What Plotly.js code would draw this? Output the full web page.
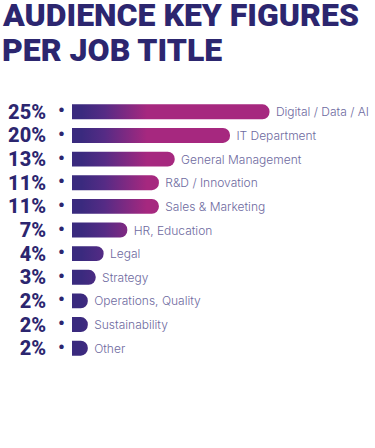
<!DOCTYPE html>
<html>
<head>
<meta charset="utf-8">
<script src="https://cdn.plot.ly/plotly-3.0.1.min.js"></script>
<style>html,body{margin:0;padding:0;background:#fff;}#chart{width:375px;height:448px;}</style>
</head>
<body>
<div id="chart"></div>
<script>
var categories = ["Digital / Data / AI", "IT Department", "General Management", "R&D / Innovation", "Sales & Marketing", "HR, Education", "Legal", "Strategy", "Operations, Quality", "Sustainability", "Other"];
var shares = [25, 20, 13, 11, 11, 7, 4, 3, 2, 2, 2];
var pctLabels = ["25%", "20%", "13%", "11%", "11%", "7%", "4%", "3%", "2%", "2%", "2%"];
var titleLines = ["AUDIENCE KEY FIGURES", "PER JOB TITLE"];

var NAVY = "#2c266f";
var idx = categories.map(function(_, i){ return i; });

var trace = {
  type: "bar",
  orientation: "h",
  x: shares,
  y: idx,
  width: 0.63,
  marker: {color: "#6a2a84", cornerradius: 7, line: {width: 0}},
  text: categories.map(function(c){ return "\u00a0" + c; }),
  textposition: "outside",
  constraintext: "none",
  cliponaxis: false,
  textfont: {family: "Inter", size: 12, weight: 300, color: "#6e6aa0"},
  hoverinfo: "skip"
};

var PLOT_W = 303, PLOT_H = 260;
var anns = idx.map(function(i){
  return {x: 0, y: i, xref: "x", yref: "y", xshift: -11, yshift: 1, text: "\u2022", showarrow: false,
          font: {family: "Roboto", size: 19, weight: 700, color: NAVY}, xanchor: "center", yanchor: "middle"};
});
titleLines.forEach(function(t, k){
  anns.push({
    text: t, showarrow: false,
    xref: "paper", yref: "paper",
    x: -72 / PLOT_W, xanchor: "left",
    y: 1 + (100 - [14.5, 49.5][k]) / PLOT_H, yanchor: "middle",
    font: {family: "Roboto", size: 32, weight: 900, color: NAVY}
  });
});

var layout = {
  width: 375, height: 448,
  margin: {l: 72, r: 0, t: 100, b: 88},
  paper_bgcolor: "#fff", plot_bgcolor: "#fff",
  showlegend: false,
  xaxis: {range: [0, PLOT_W/7.9], visible: false, fixedrange: true},
  yaxis: {
    range: [10.5, -0.5],
    tickvals: idx, ticktext: pctLabels,
    tickfont: {family: "Roboto", size: 20, weight: 800, color: NAVY},
    ticklabelstandoff: 25,
    showgrid: false, zeroline: false, showline: false, ticks: ""
  },
  annotations: anns,
  bargap: 0.3
};

Plotly.newPlot("chart", [trace], layout, {staticPlot: true, displayModeBar: false}).then(function(gd){
  var xa = gd._fullLayout.xaxis;
  var svg = gd.querySelector("svg.main-svg");
  var defs = svg.querySelector("defs");
  var ns = "http://www.w3.org/2000/svg";
  var grad = document.createElementNS(ns, "linearGradient");
  grad.setAttribute("id", "barGrad");
  grad.setAttribute("gradientUnits", "userSpaceOnUse");
  grad.setAttribute("x1", xa.l2p(1.2));
  grad.setAttribute("x2", xa.l2p(9.5));
  grad.setAttribute("y1", 0);
  grad.setAttribute("y2", 0);
  [["0", "#3a2a7e"], ["0.35", "#552b85"], ["1", "#a6287f"]].forEach(function(s){
    var st = document.createElementNS(ns, "stop");
    st.setAttribute("offset", s[0]);
    st.setAttribute("stop-color", s[1]);
    grad.appendChild(st);
  });
  defs.appendChild(grad);
  gd.querySelectorAll(".barlayer .point path").forEach(function(p){
    p.style.fill = "url(#barGrad)";
  });
});
</script>
</body>
</html>
